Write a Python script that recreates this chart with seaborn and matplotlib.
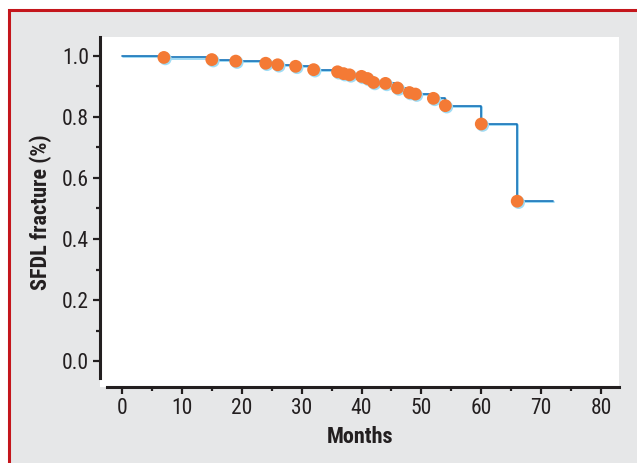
import matplotlib
matplotlib.use('Agg')
import matplotlib.pyplot as plt
import matplotlib.patheffects as pe
from matplotlib.patches import Rectangle
from matplotlib.ticker import MultipleLocator
import seaborn as sns
import pandas as pd

# Kaplan-Meier style data
months = [7, 15, 19, 24, 26, 29, 32, 36, 37, 38, 40, 41, 42, 44, 46, 48, 49, 52, 54, 60, 66]
survival = [0.995, 0.988, 0.983, 0.976, 0.971, 0.966, 0.955, 0.948, 0.942, 0.938, 0.933,
            0.926, 0.913, 0.910, 0.895, 0.880, 0.875, 0.861, 0.837, 0.777, 0.524]
follow_up_end = 72

curve = pd.DataFrame({'Months': [0] + months + [follow_up_end],
                      'Survival': [1.0] + survival + [survival[-1]]})
events = pd.DataFrame({'Months': months, 'Survival': survival})

sns.set_style('white')
plt.rcParams['font.family'] = ['Roboto Condensed', 'Liberation Sans', 'DejaVu Sans']

W, H = 637, 463
fig = plt.figure(figsize=(W / 100, H / 100), dpi=100)
fig.patch.set_facecolor('white')

# grey panel with red frame on top/left
fig.add_artist(Rectangle((9 / W, -0.1), 1.2, 1.1 - 10 / H, transform=fig.transFigure,
                         facecolor='#e6e7e8', edgecolor='#c4161c', linewidth=2.2, zorder=0))

ax = fig.add_axes([100 / W, (H - 387) / H, 519 / W, 350 / H])
ax.set_facecolor('white')

shadow = [pe.SimpleLineShadow(offset=(0.8, -0.8), shadow_color='#8fd3f2', alpha=1), pe.Normal()]
sns.lineplot(data=curve, x='Months', y='Survival', drawstyle='steps-post',
             color='#1473b9', linewidth=1.2, ax=ax, path_effects=shadow)
dots = sns.scatterplot(data=events, x='Months', y='Survival', color='#f47a35', s=85,
                       edgecolor='none', linewidth=0, ax=ax, zorder=3)
dots.collections[-1].set_path_effects([pe.SimplePatchShadow(offset=(1, -1), shadow_rgbFace='#9fdcf5', alpha=1),
                                       pe.Normal()])

ax.set_xlim(-3.67, 83.0)
ax.set_ylim(-0.085, 1.062)
ax.xaxis.set_major_locator(MultipleLocator(10))
ax.xaxis.set_minor_locator(MultipleLocator(5))
ax.yaxis.set_minor_locator(MultipleLocator(0.1))
ax.set_yticks([0.0, 0.2, 0.4, 0.6, 0.8, 1.0])
ax.set_yticklabels(['0.0', '0.2', '0.4', '0.6', '0.8', '1.0'])

for side in ['top', 'right']:
    ax.spines[side].set_visible(False)
for side in ['left', 'bottom']:
    ax.spines[side].set_color('#231f20')
    ax.spines[side].set_linewidth(2.2)
ax.spines['left'].set_bounds(-0.056, 1.062)
ax.spines['bottom'].set_bounds(-2.5, 83.0)

ax.tick_params(which='major', direction='out', length=5, width=1.6, color='#231f20',
               labelsize=15.5, labelcolor='#231f20', pad=3, left=True, bottom=True)
ax.tick_params(which='minor', direction='out', length=3, width=1.6, color='#231f20',
               left=True, bottom=True)

ax.set_xlabel('Months', fontsize=16, fontweight='bold', color='#231f20', labelpad=5)
ax.set_ylabel('SFDL fracture (%)', fontsize=16, fontweight='bold', color='#231f20', labelpad=7)

fig.savefig('out.png', dpi=100, facecolor=fig.get_facecolor())
plt.close(fig)
